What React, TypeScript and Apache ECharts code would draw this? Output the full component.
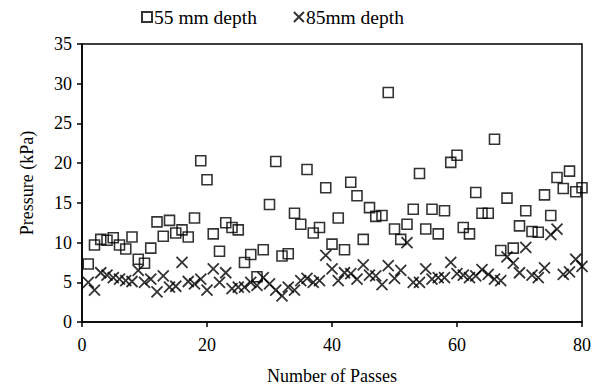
import React, { useEffect, useRef } from "react";
import * as echarts from "echarts";

const passes: number[] = Array.from({ length: 80 }, (_, i) => i + 1);

const depth55: number[] = [
  7.3, 9.7, 10.4, 10.3, 10.6, 9.7, 9.2, 10.7, 7.9, 7.4,
  9.3, 12.6, 10.8, 12.8, 11.2, 11.6, 10.7, 13.1, 20.3, 17.9,
  11.1, 8.9, 12.5, 11.9, 11.6, 7.5, 8.5, 5.7, 9.1, 14.8,
  20.2, 8.3, 8.6, 13.7, 12.3, 19.2, 11.2, 11.9, 16.9, 9.8,
  13.1, 9.1, 17.6, 15.9, 10.4, 14.4, 13.3, 13.4, 28.9, 11.7,
  10.4, 12.3, 14.2, 18.7, 11.7, 14.2, 11.1, 14.0, 20.1, 21.0,
  11.9, 11.1, 16.3, 13.7, 13.7, 23.0, 9.0, 15.6, 9.3, 12.1,
  14.0, 11.4, 11.3, 16.0, 13.4, 18.2, 16.8, 19.0, 16.4, 16.9,
];

const depth85: number[] = [
  5.0, 4.0, 6.2, 5.9, 5.6, 5.4, 5.2, 5.1, 6.5, 5.0,
  5.4, 3.8, 5.8, 4.4, 4.5, 7.5, 5.1, 4.8, 5.4, 4.0,
  6.7, 5.0, 6.2, 4.2, 4.4, 4.4, 5.0, 4.6, 5.6, 4.8,
  4.0, 3.3, 4.4, 4.0, 5.2, 5.5, 5.0, 5.2, 8.4, 6.7,
  5.2, 6.2, 6.1, 5.4, 7.2, 5.9, 5.8, 4.7, 7.1, 5.5,
  6.5, 10.0, 5.0, 5.0, 6.7, 5.4, 5.6, 5.6, 7.5, 6.1,
  5.9, 5.6, 5.8, 6.6, 6.0, 5.4, 5.2, 8.2, 7.4, 6.2,
  9.4, 5.9, 5.6, 6.8, 11.0, 11.7, 6.0, 6.3, 7.9, 7.0,
];

const seriesNames = ["55 mm depth", "85mm depth"];
const xAxisTitle = "Number of Passes";
const yAxisTitle = "Pressure (kPa)";

const FONT = "'Liberation Serif', 'Times New Roman', serif";
const CROSS = "path://M0,0L10,10M0,10L10,0";

export default function App() {
  const ref = useRef<HTMLDivElement>(null);

  useEffect(() => {
    if (!ref.current) return;
    const chart = echarts.init(ref.current, undefined, { renderer: "svg" });
    const textStyle = { fontFamily: FONT, fontSize: 18, color: "#000" };
    chart.setOption({
      animation: false,
      backgroundColor: "#fff",
      textStyle: { fontFamily: FONT },
      legend: {
        left: 141,
        top: 7,
        padding: 0,
        itemGap: 36,
        itemWidth: 10,
        itemHeight: 10,
        textStyle: { ...textStyle, fontSize: 19.5, padding: [0, 0, 0, -3] },
        data: seriesNames,
      },
      grid: {
        left: 82,
        right: 11,
        top: 44,
        bottom: 57,
        show: true,
        borderColor: "#000",
        borderWidth: 1.5,
        containLabel: false,
      },
      xAxis: {
        type: "value",
        min: 0,
        max: 80,
        interval: 20,
        name: xAxisTitle,
        nameLocation: "middle",
        nameGap: 45,
        nameTextStyle: textStyle,
        axisLine: { show: true, lineStyle: { color: "#000", width: 1.5 } },
        axisTick: { show: true, inside: false, length: 5, lineStyle: { color: "#000", width: 1.5 } },
        axisLabel: { ...textStyle, margin: 14 },
        splitLine: { show: false },
      },
      yAxis: {
        type: "value",
        min: 0,
        max: 35,
        interval: 5,
        name: yAxisTitle,
        nameLocation: "middle",
        nameGap: 46,
        nameTextStyle: textStyle,
        axisLine: { show: true, lineStyle: { color: "#000", width: 1.5 } },
        axisTick: { show: true, inside: false, length: 5, lineStyle: { color: "#000", width: 1.5 } },
        axisLabel: { ...textStyle, margin: 10 },
        splitLine: { show: false },
      },
      series: [
        {
          name: seriesNames[0],
          type: "scatter",
          symbol: "rect",
          symbolSize: 10,
          itemStyle: { color: "rgba(0,0,0,0)", borderColor: "#000", borderWidth: 1.6 },
          data: passes.map((p, i) => [p, depth55[i]]),
        },
        {
          name: seriesNames[1],
          type: "scatter",
          symbol: CROSS,
          symbolSize: 11,
          itemStyle: { color: "rgba(0,0,0,0)", borderColor: "#000", borderWidth: 1.8 },
          data: passes.map((p, i) => [p, depth85[i]]),
        },
      ],
    });
    return () => chart.dispose();
  }, []);

  return (
    <div
      ref={ref}
      style={{ position: "absolute", left: 0, top: 0, width: 594, height: 390 }}
    />
  );
}
